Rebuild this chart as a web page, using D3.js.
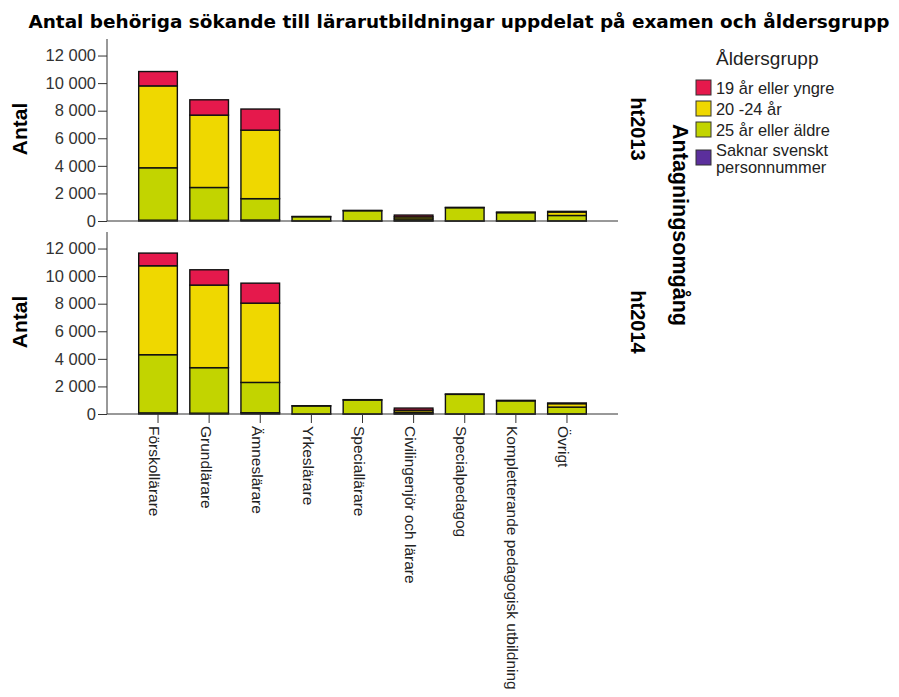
<!DOCTYPE html>
<html>
<head>
<meta charset="utf-8">
<script src="https://cdn.jsdelivr.net/npm/d3@7"></script>
<style>
  body { margin: 0; background: #fff; }
  svg { display: block; }
</style>
</head>
<body>
<script>
var categories = ["Förskollärare", "Grundlärare", "Ämneslärare", "Yrkeslärare", "Speciallärare",
  "Civilingenjör och lärare", "Specialpedagog", "Kompletterande pedagogisk utbildning", "Övrigt"];
var ageGroups = ["19 år eller yngre", "20 -24 år", "25 år eller äldre", "Saknar svenskt personnummer"];
var rounds = ["ht2013", "ht2014"];
var yTicks = [0, 2000, 4000, 6000, 8000, 10000, 12000];

// antal per åldersgrupp, en rad per examen
var ht2013_19 = [1040, 1110, 1530, 0, 0, 130, 0, 0, 50];
var ht2013_20_24 = [5940, 5250, 4970, 20, 25, 150, 25, 45, 250];
var ht2013_25 = [3800, 2380, 1550, 300, 740, 130, 960, 600, 390];
var ht2013_saknar = [60, 50, 70, 10, 5, 20, 5, 5, 10];

var ht2014_19 = [920, 1110, 1450, 0, 0, 150, 0, 0, 50];
var ht2014_20_24 = [6450, 5990, 5750, 15, 25, 150, 25, 35, 250];
var ht2014_25 = [4220, 3300, 2200, 580, 1010, 110, 1420, 950, 490];
var ht2014_saknar = [80, 60, 90, 5, 5, 20, 5, 5, 10];

var colors = ["#e5194c", "#efd800", "#c2d400", "#5b2f9c"];

var seriesByRound = {
  ht2013: [ht2013_19, ht2013_20_24, ht2013_25, ht2013_saknar],
  ht2014: [ht2014_19, ht2014_20_24, ht2014_25, ht2014_saknar]
};

var width = 899, height = 697;
var svg = d3.select("body").append("svg").attr("width", width).attr("height", height);

var left = 107, right = 618;
var panels = [{top: 39, bottom: 221}, {top: 232, bottom: 414}];

var x = d3.scaleBand().domain(categories).range([left, right]).paddingInner(0.244).paddingOuter(0.62);

// title
var title = svg.append("text")
  .attr("x", 459).attr("y", 28)
  .attr("text-anchor", "middle")
  .style("font-family", "DejaVu Sans")
  .style("font-weight", "bold")
  .style("font-size", "16px")
  .text("Antal behöriga sökande till lärarutbildningar uppdelat på examen och åldersgrupp");
var tw = title.node().getComputedTextLength();
title.style("font-size", (16 * 862 / tw) + "px");

rounds.forEach(function (r, pi) {
  var p = panels[pi];
  var y = d3.scaleLinear().domain([0, 13200]).range([p.bottom, p.top]);
  var g = svg.append("g");

  // staplat: nederst saknar, sedan 25+, 20-24, 19
  var rows = categories.map(function (c, i) {
    var o = {cat: c};
    ageGroups.forEach(function (a, k) { o[a] = seriesByRound[r][k][i]; });
    return o;
  });
  var order = ageGroups.slice().reverse();
  var stack = d3.stack().keys(order)(rows);

  g.selectAll("g.layer").data(stack).enter().append("g")
    .attr("class", "layer")
    .attr("fill", function (d) { return colors[ageGroups.indexOf(d.key)]; })
    .selectAll("rect").data(function (d) { return d; })
    .enter().append("rect")
    .filter(function (d) { return d[1] - d[0] > 0; })
    .attr("x", function (d) { return x(d.data.cat); })
    .attr("width", x.bandwidth())
    .attr("y", function (d) { return y(d[1]); })
    .attr("height", function (d) { return y(d[0]) - y(d[1]); })
    .attr("stroke", "#111")
    .attr("stroke-width", 1.4);

  // y axis
  var yAxis = d3.axisLeft(y).tickValues(yTicks).tickSize(9).tickPadding(2)
    .tickFormat(function (d) { return d3.format(",")(d).replace(/,/g, " "); });
  var ya = svg.append("g").attr("transform", "translate(" + left + ",0)").call(yAxis);
  ya.select(".domain").remove();
  ya.selectAll("line").attr("stroke", "#333");
  ya.selectAll("text").style("font-family", "Liberation Sans").style("font-size", "16.5px").attr("fill", "#333");
  svg.append("line").attr("x1", left).attr("x2", left).attr("y1", p.top).attr("y2", p.bottom)
    .attr("stroke", "#333");

  // x baseline
  svg.append("line").attr("x1", left).attr("x2", right).attr("y1", p.bottom).attr("y2", p.bottom)
    .attr("stroke", "#333");

  svg.append("text")
    .attr("transform", "translate(27," + ((p.top + p.bottom) / 2 - 1) + ") rotate(-90)")
    .attr("text-anchor", "middle")
    .style("font-family", "Liberation Sans").style("font-weight", "bold").style("font-size", "21px")
    .text("Antal");

  svg.append("text")
    .attr("transform", "translate(631," + ((p.top + p.bottom) / 2 - 1) + ") rotate(90)")
    .attr("text-anchor", "middle")
    .style("font-family", "Liberation Sans").style("font-weight", "bold").style("font-size", "20px")
    .text(r);

  if (pi === 1) {
    var xAxis = d3.axisBottom(x).tickSize(9).tickSizeOuter(0);
    var xa = svg.append("g").attr("transform", "translate(0," + p.bottom + ")").call(xAxis);
    xa.select(".domain").remove();
    xa.selectAll("line").attr("stroke", "#333");
    xa.selectAll("text")
      .attr("transform", "rotate(90)")
      .attr("x", 12).attr("y", 0).attr("dy", "0.55em")
      .style("text-anchor", "start")
      .style("font-family", "Liberation Sans").style("font-size", "15.5px").attr("fill", "#222");
  }
});

svg.append("text")
  .attr("transform", "translate(673,225) rotate(90)")
  .attr("text-anchor", "middle")
  .style("font-family", "Liberation Sans").style("font-weight", "bold").style("font-size", "21.5px")
  .text("Antagningsomgång");

// legend
var legend = svg.append("g").attr("transform", "translate(696,0)");
legend.append("text").attr("x", 20).attr("y", 65)
  .style("font-family", "Liberation Sans").style("font-size", "19px").attr("fill", "#222")
  .text("Åldersgrupp");
var ly = [80, 101, 122, 150];
ageGroups.forEach(function (a, i) {
  legend.append("rect").attr("x", 0).attr("y", ly[i]).attr("width", 15).attr("height", 15)
    .attr("fill", colors[i]).attr("stroke", "#333").attr("stroke-width", 1);
  var t = legend.append("text").attr("x", 20).attr("y", ly[i] + 14)
    .style("font-family", "Liberation Sans").style("font-size", "16.4px").attr("fill", "#222");
  if (a === "Saknar svenskt personnummer") {
    t.attr("y", ly[i] + 6);
    t.append("tspan").attr("x", 20).text("Saknar svenskt");
    t.append("tspan").attr("x", 20).attr("dy", 17).text("personnummer");
  } else {
    t.text(a);
  }
});
</script>
</body>
</html>
